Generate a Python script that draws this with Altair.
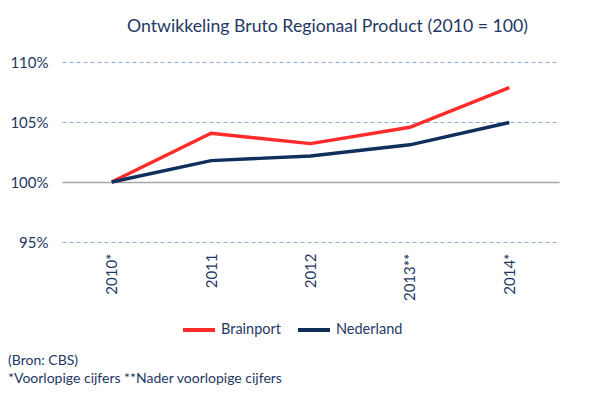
import altair as alt
import pandas as pd

years = ["2010*", "2011", "2012", "2013**", "2014*"]
brainport = [100.0, 104.06, 103.2, 104.56, 107.86]
nederland = [100.0, 101.78, 102.17, 103.1, 104.96]
series_names = ["Brainport", "Nederland"]
series_colors = ["#FF2B2B", "#10305C"]
y_ticks = [95, 100, 105, 110]
title_text = "Ontwikkeling Bruto Regionaal Product (2010 = 100)"
footnotes = ["(Bron: CBS)", "*Voorlopige cijfers **Nader voorlopige cijfers"]

NAVY = "#1F3864"
FONT = "Lato"

rows = []
for name, vals in zip(series_names, [brainport, nederland]):
    for yr, v in zip(years, vals):
        rows.append({"jaar": yr, "waarde": v, "reeks": name})
df = pd.DataFrame(rows)

lines = alt.Chart(df).mark_line(strokeWidth=3.4).encode(
    x=alt.X("jaar:N", sort=years, title=None,
            scale=alt.Scale(paddingInner=0, paddingOuter=0.5),
            axis=alt.Axis(labelAngle=-90, labelAlign="right", labelBaseline="middle",
                          labelPadding=11, ticks=False, domain=False, grid=False,
                          labelColor=NAVY, labelFont=FONT, labelFontSize=15)),
    y=alt.Y("waarde:Q", title=None,
            scale=alt.Scale(domain=[95, 110], nice=False, zero=False),
            axis=alt.Axis(values=y_ticks, labelExpr="datum.value + '%'",
                          ticks=False, domain=False, labelPadding=14,
                          labelColor=NAVY, labelFont=FONT, labelFontSize=15,
                          grid=True,
                          gridColor=alt.ExprRef("datum.value == 100 ? '#A6A6A6' : '#8EAADB'"),
                          gridDash=alt.ExprRef("datum.value == 100 ? [] : [4, 3]"),
                          gridWidth=alt.ExprRef("datum.value == 100 ? 1.5 : 1"))),
    color=alt.Color("reeks:N", sort=series_names,
                    scale=alt.Scale(domain=series_names, range=series_colors),
                    legend=alt.Legend(title=None, orient="none", legendX=119, legendY=250,
                                      direction="horizontal", symbolType="stroke",
                                      symbolSize=1024, symbolStrokeWidth=4,
                                      labelFont=FONT, labelFontSize=14.5, labelColor=NAVY,
                                      columnPadding=9, labelOffset=4)),
)

note_layers = []
for i, t in enumerate(footnotes):
    note_layers.append(
        alt.Chart(pd.DataFrame({"t": [t]})).mark_text(
            align="left", baseline="middle", font=FONT, fontSize=14, color=NAVY
        ).encode(x=alt.value(-54), y=alt.value(299 + 18 * i), text="t:N")
    )

chart = alt.layer(lines, *note_layers).properties(
    width=497, height=180,
    autosize=alt.AutoSizeParams(type="none"),
    padding={"left": 54, "top": 54, "right": 31, "bottom": 150},
    title=alt.TitleParams(title_text, font=FONT, fontSize=17.7, fontWeight="normal",
                          color=NAVY, anchor="middle", dx=17, offset=19),
).configure_view(stroke=None)

chart.save("out.html", embed_options={"renderer": "svg", "actions": False})
